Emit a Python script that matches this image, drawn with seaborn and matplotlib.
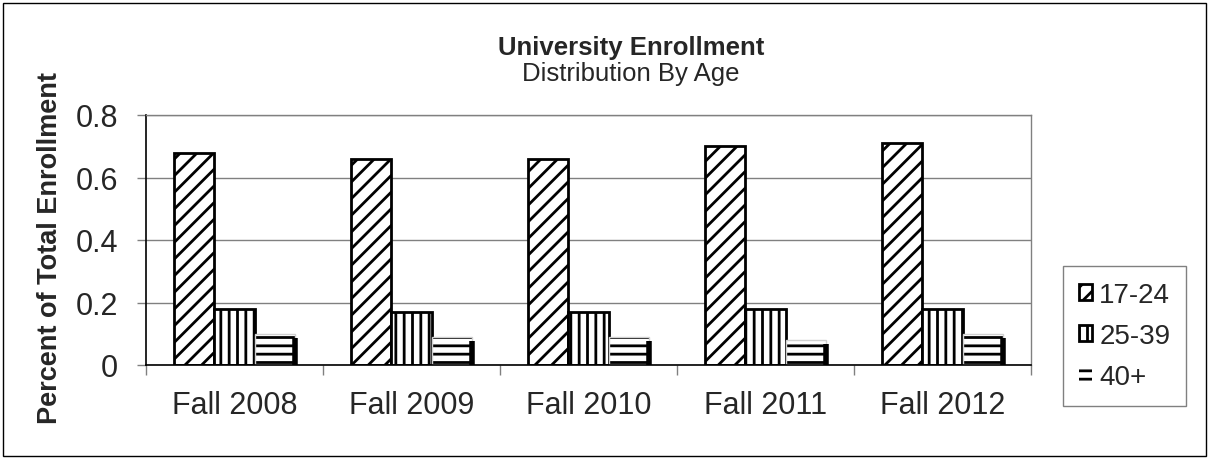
import matplotlib
matplotlib.use("Agg")
import matplotlib.pyplot as plt
from matplotlib.patches import Patch, Rectangle
from matplotlib.colors import to_rgba
import seaborn as sns
import pandas as pd

terms = ["Fall 2008", "Fall 2009", "Fall 2010", "Fall 2011", "Fall 2012"]
age_groups = ["17-24", "25-39", "40+"]
pct_17_24 = [0.68, 0.66, 0.66, 0.70, 0.71]
pct_25_39 = [0.18, 0.17, 0.17, 0.18, 0.18]
pct_40_plus = [0.10, 0.09, 0.09, 0.08, 0.10]
y_ticks = [0, 0.2, 0.4, 0.6, 0.8]
y_tick_labels = ["0", "0.2", "0.4", "0.6", "0.8"]

rows = []
for grp, vals in zip(age_groups, [pct_17_24, pct_25_39, pct_40_plus]):
    for t, v in zip(terms, vals):
        rows.append({"term": t, "age": grp, "pct": v})
df = pd.DataFrame(rows)

sns.set_style("white")
plt.rcParams["font.family"] = ["Liberation Sans", "DejaVu Sans"]
plt.rcParams["hatch.linewidth"] = 2.0

fig = plt.figure(figsize=(12.09, 4.6), dpi=100)
ax = fig.add_axes([146 / 1209, 1 - 366 / 460, 885 / 1209, 250 / 460])

sns.barplot(data=df, x="term", y="pct", hue="age", order=terms, hue_order=age_groups,
            palette={g: "white" for g in age_groups}, width=0.68, edgecolor="black",
            linewidth=2.0, ax=ax, legend=False, errorbar=None)


def black_hatch(p):
    if hasattr(p, "set_hatchcolor"):
        p.set_hatchcolor("black")
    else:
        p._hatch_color = to_rgba("black")


hatches = ["//", "||", "--"]
for cont, h, grp in zip(ax.containers, hatches, age_groups):
    for p in cont:
        p.set_hatch(h)
        if grp == "40+":
            p.set_edgecolor("#d0d0d0")
            p.set_linewidth(1.0)
            black_hatch(p)
            # dark right-hand edge like the original chart
            xr = p.get_x() + p.get_width()
            ax.vlines(xr, 0, p.get_height() - 0.012, color="black", linewidth=4,
                      zorder=p.get_zorder() + 1)
        else:
            p.set_edgecolor("black")

ax.set_xlim(-0.5, 4.5)
ax.set_ylim(0, 0.8)
ax.set_yticks(y_ticks)
ax.set_yticklabels(y_tick_labels)
ax.set_xlabel("")
ax.set_ylabel("Percent of Total Enrollment", fontsize=19.5, fontweight="bold")
ax.yaxis.set_label_coords(-0.094, 0.47)

ax.grid(axis="y", color="#808080", linewidth=1)
ax.set_axisbelow(True)
for s in ["top", "right"]:
    ax.spines[s].set_color("#808080")
    ax.spines[s].set_linewidth(1)
for s in ["left", "bottom"]:
    ax.spines[s].set_color("black")
    ax.spines[s].set_linewidth(1.2)

ax.tick_params(axis="y", direction="out", length=6.5, width=1, color="#808080",
               pad=13.5, labelsize=22, left=True)
ax.set_xticks([i + 0.5 for i in range(-1, 5)], minor=True)
ax.tick_params(axis="x", which="major", length=0, pad=18, labelsize=22)
ax.tick_params(axis="x", which="minor", direction="out", length=7.2, width=1,
               color="#808080", bottom=True)

fig.text(631 / 1209, 1 - 55 / 460, "University Enrollment", ha="center", va="baseline",
         fontsize=18.5, fontweight="bold")
fig.text(631 / 1209, 1 - 81 / 460, "Distribution By Age", ha="center", va="baseline",
         fontsize=18.5)

handles = []
for h, g in zip(hatches, age_groups):
    if g == "40+":
        hp = Patch(facecolor="white", edgecolor="white", hatch=h, linewidth=0, label=g)
        black_hatch(hp)
    else:
        hp = Patch(facecolor="white", edgecolor="black", hatch=h, linewidth=2.0, label=g)
    handles.append(hp)
leg = fig.legend(handles=handles, loc="center",
                 bbox_to_anchor=((1057 + 1192) / 2 / 1209, 1 - 337 / 460),
                 bbox_transform=fig.transFigure, fontsize=20, frameon=True,
                 fancybox=False, framealpha=1, edgecolor="#808080",
                 handlelength=0.5, handleheight=0.5, handletextpad=0.25,
                 labelspacing=0.55, borderpad=0.55)
leg.get_frame().set_linewidth(1)

fig.add_artist(Rectangle((3 / 1209, 3 / 460), 1203 / 1209, 453 / 460,
                         transform=fig.transFigure, fill=False, edgecolor="black",
                         linewidth=1))

fig.savefig("out.png", dpi=100)
